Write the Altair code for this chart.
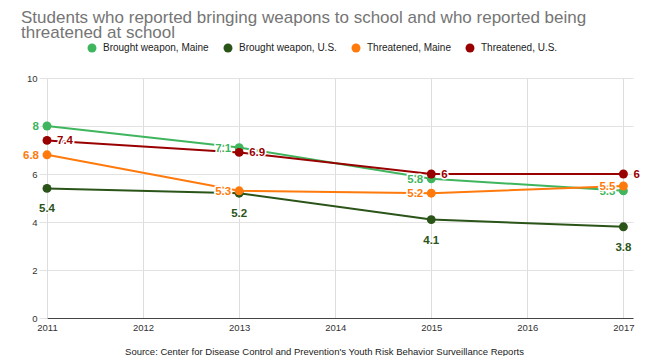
import altair as alt
import pandas as pd

years = [2011, 2013, 2015, 2017]
series_names = ["Brought weapon, Maine", "Brought weapon, U.S.", "Threatened, Maine", "Threatened, U.S."]
weapon_maine = [8, 7.1, 5.8, 5.3]
weapon_us = [5.4, 5.2, 4.1, 3.8]
threat_maine = [6.8, 5.3, 5.2, 5.5]
threat_us = [7.4, 6.9, 6, 6]
colors = ["#3fb55e", "#2b5419", "#ff7a0c", "#990000"]
year_ticks = [2011, 2012, 2013, 2014, 2015, 2016, 2017]
y_ticks = [0, 2, 4, 6, 8, 10]

rows = []
for name, vals in zip(series_names, [weapon_maine, weapon_us, threat_maine, threat_us]):
    for y, v in zip(years, vals):
        rows.append({"year": y, "series": name, "value": v, "label": f"{v:g}"})
df = pd.DataFrame(rows)

font = "Liberation Sans"
x = alt.X("year:Q", scale=alt.Scale(domain=[2011, 2017.1], nice=False, zero=False),
          axis=alt.Axis(values=year_ticks, format="d", grid=True, gridColor="#dddddd",
                        ticks=False, domain=True, domainColor="#444444", labelPadding=4,
                        labelColor="#333333", labelFontSize=9.5, labelFont=font,
                        title="Source: Center for Disease Control and Prevention's Youth Risk Behavior Surveillance Reports",
                        titleFont=font, titleFontSize=9.5, titleFontWeight="normal", titleColor="#222222",
                        titlePadding=15, titleX=277, titleAlign="center", labelFlush=False),
          title=None)
y = alt.Y("value:Q", scale=alt.Scale(domain=[0, 10], nice=False),
          axis=alt.Axis(values=y_ticks, grid=True, gridColor="#e2e2e2", domain=False,
                        ticks=True, tickColor="#e2e2e2", tickSize=8, labelPadding=2,
                        labelColor="#333333", labelFontSize=9.5, labelFont=font, title=None))
color = alt.Color("series:N", scale=alt.Scale(domain=series_names, range=colors),
                  legend=alt.Legend(orient="none", direction="horizontal", legendX=40, legendY=-35,
                                    title=None, symbolType="circle", symbolSize=80,
                                    symbolStrokeWidth=0, labelFont=font, labelFontSize=10,
                                    labelOffset=6, labelColor="#222222", columnPadding=14,
                                    symbolOpacity=1))

base = alt.Chart(df).encode(x=x, y=y, color=color)
lines = base.mark_line(strokeWidth=2)
points = base.mark_point(filled=True, size=80, opacity=1)

def labels(name, **kw):
    sub = base.transform_filter(alt.datum.series == name)
    halo = sub.mark_text(stroke="white", strokeWidth=3, fontWeight="bold", fontSize=11.5, font=font, **kw).encode(text="label:N")
    txt = sub.mark_text(fontWeight="bold", fontSize=11.5, font=font, **kw).encode(text="label:N")
    return halo + txt

chart = alt.layer(
    lines, points,
    labels(series_names[0], align="right", dx=-8, dy=1),
    labels(series_names[1], align="center", dy=21),
    labels(series_names[2], align="right", dx=-8, dy=1),
    labels(series_names[3], align="left", dx=10, dy=1),
).properties(
    width=586, height=240,
    title=alt.TitleParams(
        text=["Students who reported bringing weapons to school and who reported being", "threatened at school"],
        anchor="start", frame="group", dx=-26, offset=1, font=font, fontSize=17, fontWeight="normal",
        color="#757575", lineHeight=15),
    autosize=alt.AutoSizeParams(type="none"),
    padding={"left": 39, "top": 70, "right": 7, "bottom": 38},
).configure_view(stroke=None)

chart.save("out.html", embed_options={"renderer": "svg", "actions": False})
